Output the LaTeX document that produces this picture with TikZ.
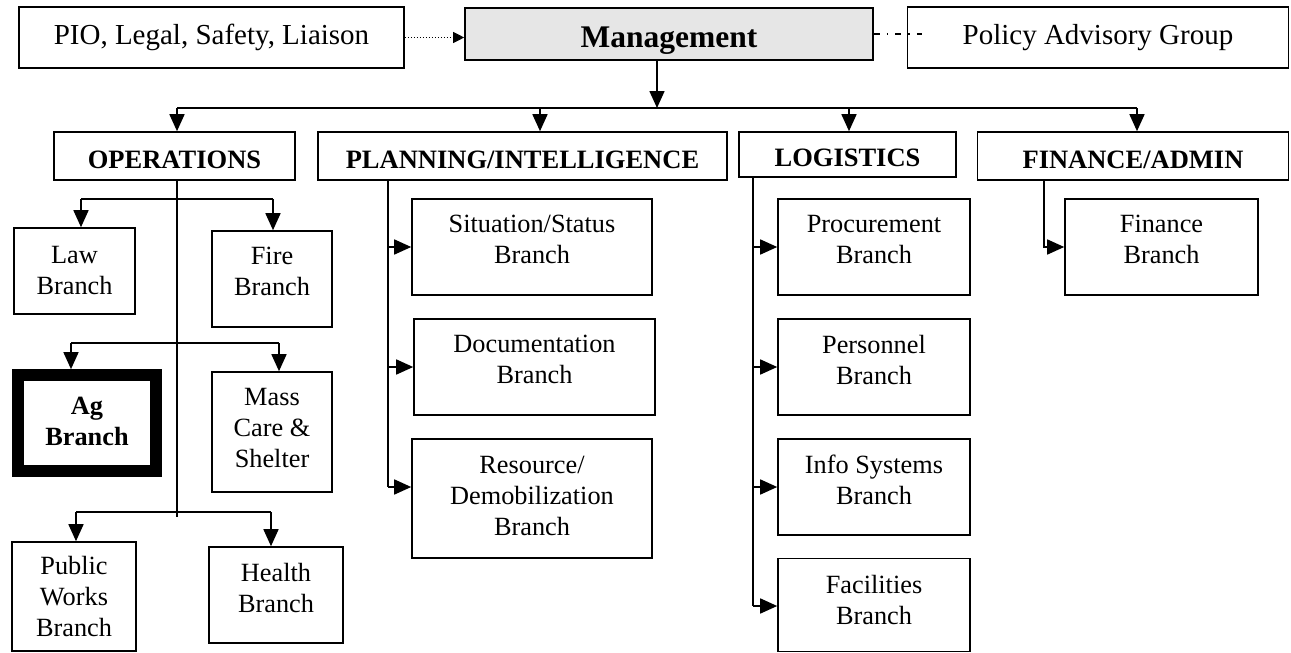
\documentclass[tikz,border=0pt]{standalone}
\usepackage{fontspec}
\setmainfont{Liberation Serif}
\usetikzlibrary{arrows.meta}
\newcommand\fBr{\fontsize{26.3}{31}\selectfont}
\newcommand\fHd{\fontsize{26.5}{31}\selectfont\bfseries}
\newcommand\fMg{\fontsize{31.5}{36}\selectfont\bfseries}
\newcommand\fTop{\fontsize{29}{34}\selectfont}
\begin{document}
\begin{tikzpicture}[x=1pt,y=-1pt,
  box/.style={draw, line width=1.6pt, rectangle, inner sep=0pt, align=center, font=\fBr},
  hdr/.style={box, font=\fHd, text height=24pt, text depth=0pt},
  top/.style={box, font=\fTop},
  up/.style={text depth=15pt},
  conn/.style={line width=1.6pt},
  arr/.style={line width=1.6pt, -{Triangle[length=17pt,width=15pt]}},
  dotarr/.style={line width=1pt, dash pattern=on 1.5pt off 1.5pt, -{Triangle[length=11pt,width=11pt]}},
  dashdotline/.style={line width=1.3pt, dash pattern=on 6pt off 7pt on 1.5pt off 7pt}
]
\useasboundingbox (0,0) rectangle (1291,653);

% top row
\node[top, minimum width=385pt, minimum height=61pt] (pio) at (211.5,37.5) {PIO, Legal, Safety, Liaison};
\node[box, fill={rgb,255:red,230;green,230;blue,230}, font=\fMg, text height=26pt, text depth=0pt,
      minimum width=408pt, minimum height=52pt] (mgmt) at (669,34) {Management};
\node[top, minimum width=381pt, minimum height=61pt] (policy) at (1098,37.5) {Policy Advisory Group};

\draw[dotarr] (pio.east) -- (pio.east -| mgmt.west);
\draw[dashdotline] (mgmt.east) -- ([xshift=15pt]mgmt.east -| policy.west);

% section headers
\node[hdr, minimum width=241pt, minimum height=48pt] (ops) at (174.5,156) {OPERATIONS};
\node[hdr, minimum width=409pt, minimum height=48pt] (plan) at (522.5,156) {PLANNING/INTELLIGENCE};
\node[hdr, minimum width=217pt, minimum height=45pt] (log) at (847.5,154.5) {LOGISTICS};
\node[hdr, minimum width=311pt, minimum height=48pt] (fin) at (1133,156) {FINANCE/ADMIN};

% bus from management
\coordinate (busL) at (177,108);
\coordinate (busR) at (1137,108);
\coordinate (mdrop) at (657,108);
\coordinate (pdrop) at (540,108);
\coordinate (ldrop) at (849,108);
\draw[arr] (mdrop |- mgmt.south) -- (mdrop);
\draw[conn] (busL) -- (busR);
\draw[arr] (busL) -- (busL |- ops.north);
\draw[arr] (pdrop) -- (pdrop |- plan.north);
\draw[arr] (ldrop) -- (ldrop |- log.north);
\draw[arr] (busR) -- (busR |- fin.north);

% operations branches
\node[box, minimum width=121pt, minimum height=86pt] (law) at (74.5,271) {Law\\Branch};
\node[box, up, minimum width=120pt, minimum height=96pt] (fire) at (272,279) {Fire\\Branch};
\node[box, font=\fBr\bfseries, line width=11.7pt, outer sep=5.85pt, text depth=4pt,
      minimum width=138pt, minimum height=96pt] (ag) at (87,423) {Ag\\Branch};
\node[box, text depth=8pt, minimum width=120pt, minimum height=120pt] (mass) at (272,432) {Mass\\Care \&\\Shelter};
\node[box, minimum width=124pt, minimum height=109pt] (pw) at (74,596.5) {Public\\Works\\Branch};
\node[box, up, minimum width=134pt, minimum height=96pt] (health) at (276,595) {Health\\Branch};

\coordinate (opsEnd) at (177,517);
\draw[conn] (busL |- ops.south) -- (opsEnd);
\coordinate (h1a) at (81,199);
\coordinate (h1b) at (273,199);
\draw[conn] (h1a) -- (h1b);
\draw[arr] (h1a) -- (h1a |- law.north);
\draw[arr] (h1b) -- (h1b |- fire.north);
\coordinate (h2a) at (71,343);
\coordinate (h2b) at (279,343);
\draw[conn] (h2a) -- (h2b);
\draw[arr] (h2a) -- (h2a |- ag.north);
\draw[arr] (h2b) -- (h2b |- mass.north);
\coordinate (h3a) at (76,512);
\coordinate (h3b) at (271,512);
\draw[conn] (h3a) -- (h3b);
\draw[arr] (h3a) -- (h3a |- pw.north);
\draw[arr] (h3b) -- (h3b |- health.north);

% planning branches
\node[box, up, minimum width=240pt, minimum height=96pt] (sit) at (532,247) {Situation/Status\\Branch};
\node[box, up, minimum width=241pt, minimum height=96pt] (doc) at (534.5,367) {Documentation\\Branch};
\node[box, text depth=6pt, minimum width=240pt, minimum height=119pt] (res) at (532,498.5) {Resource/\\Demobilization\\Branch};
\coordinate (pv) at (388,487);
\draw[conn] (pv |- plan.south) -- (pv);
\draw[arr] (pv |- sit.west) -- (sit.west);
\draw[arr] (pv |- doc.west) -- (doc.west);
\draw[arr] (pv) -- (pv -| res.west);

% logistics branches
\node[box, up, minimum width=192pt, minimum height=96pt] (proc) at (874,247) {Procurement\\Branch};
\node[box, up, minimum width=192pt, minimum height=96pt] (pers) at (874,367) {Personnel\\Branch};
\node[box, up, minimum width=192pt, minimum height=96pt] (info) at (874,487) {Info Systems\\Branch};
\node[box, text depth=10pt, minimum width=192pt, minimum height=93pt] (fac) at (874,605) {Facilities\\Branch};
\coordinate (lv) at (753,606);
\draw[conn] (lv |- log.south) -- (lv);
\draw[arr] (lv |- proc.west) -- (proc.west);
\draw[arr] (lv |- pers.west) -- (pers.west);
\draw[arr] (lv |- info.west) -- (info.west);
\draw[arr] (lv) -- (lv -| fac.west);

% finance branch
\node[box, up, minimum width=193pt, minimum height=96pt] (finb) at (1161.5,247) {Finance\\Branch};
\coordinate (fv) at (1044,247);
\draw[arr] (fv |- fin.south) -- (fv) -- (finb.west);
\end{tikzpicture}
\end{document}
